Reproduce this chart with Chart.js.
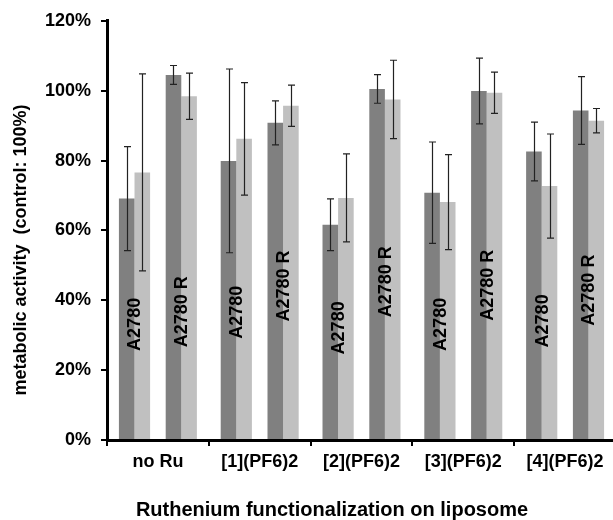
<!DOCTYPE html>
<html>
<head>
<meta charset="utf-8">
<script src="https://cdn.jsdelivr.net/npm/chart.js@4.4.1/dist/chart.umd.min.js"></script>
<style>
  html, body { margin: 0; padding: 0; background: #fff; overflow: hidden; }
  #wrap { width: 616px; height: 520px; }
</style>
</head>
<body>
<div id="wrap"><canvas id="chart" width="616" height="520"></canvas></div>
<script>
// categories on the x axis
const categories = ['no Ru', '[1](PF6)2', '[2](PF6)2', '[3](PF6)2', '[4](PF6)2'];

// metabolic activity in % of control, two bars per cell line
const a2780Dark   = [69.1, 79.9, 61.6, 70.8, 82.6];
const a2780Light  = [76.6, 86.2, 69.3, 68.1, 72.7];
const a2780RDark  = [104.5, 90.8, 100.5, 99.9, 94.3];
const a2780RLight = [98.4, 95.7, 97.5, 99.4, 91.4];

// symmetric error bars (± %)
const a2780DarkErr   = [14.9, 26.3, 7.4, 14.5, 8.4];
const a2780LightErr  = [28.2, 16.1, 12.6, 13.6, 14.9];
const a2780RDarkErr  = [2.7, 6.3, 4.1, 9.4, 9.7];
const a2780RLightErr = [6.6, 5.9, 11.2, 5.9, 3.5];

const cellLines = ['A2780', 'A2780 R'];
const yTickValues = [0, 20, 40, 60, 80, 100, 120];

const FONT = '"Liberation Sans", Arial, sans-serif';
const DARK = '#808080';
const LIGHT = '#c0c0c0';

// error bars + the rotated cell line labels inside the bars
const barExtras = {
  id: 'barExtras',
  afterDatasetsDraw(chart, args, opts) {
    const ctx = chart.ctx;
    const yScale = chart.scales.y;
    ctx.save();

    // error bars
    ctx.strokeStyle = '#222';
    ctx.lineWidth = 1.2;
    chart.data.datasets.forEach((ds, di) => {
      if (!ds.errors) return;
      const meta = chart.getDatasetMeta(di);
      meta.data.forEach((bar, i) => {
        const v = ds.data[i];
        const e = ds.errors[i];
        const top = yScale.getPixelForValue(v + e);
        const bot = yScale.getPixelForValue(v - e);
        const x = Math.round(bar.x) + 0.5;
        ctx.beginPath();
        ctx.moveTo(x, top); ctx.lineTo(x, bot);
        ctx.moveTo(x - 3.5, top); ctx.lineTo(x + 3.5, top);
        ctx.moveTo(x - 3.5, bot); ctx.lineTo(x + 3.5, bot);
        ctx.stroke();
      });
    });

    // labels, centred on the seam between dark and light bar
    ctx.fillStyle = '#000';
    ctx.font = 'bold 18px ' + FONT;
    ctx.textAlign = 'center';
    ctx.textBaseline = 'middle';
    opts.labelled.forEach((di, k) => {
      const meta = chart.getDatasetMeta(di);
      meta.data.forEach((bar, i) => {
        const x = bar.x + bar.width / 2;
        const y = yScale.getPixelForValue(opts.labelAt[k][i]);
        ctx.save();
        ctx.translate(x, y);
        ctx.rotate(-Math.PI / 2);
        ctx.fillText(cellLines[k], 0, 1);
        ctx.restore();
      });
    });

    ctx.restore();
  },
  afterDraw(chart) {
    const ctx = chart.ctx;
    const area = chart.chartArea;
    ctx.save();
    ctx.fillStyle = '#000';
    ctx.textAlign = 'center';
    ctx.textBaseline = 'middle';
    ctx.font = 'bold 20px ' + FONT;
    ctx.fillText('Ruthenium functionalization on liposome', area.left + 225, 510);
    ctx.translate(21, 250);
    ctx.rotate(-Math.PI / 2);
    ctx.font = 'bold 18px ' + FONT;
    ctx.fillText('metabolic activity  (control: 100%)', 0, 0);
    ctx.restore();
  }
};

new Chart(document.getElementById('chart'), {
  type: 'bar',
  data: {
    labels: categories,
    datasets: [
      { label: 'A2780 a', data: a2780Dark, errors: a2780DarkErr, backgroundColor: DARK },
      { label: 'A2780 b', data: a2780Light, errors: a2780LightErr, backgroundColor: LIGHT },
      { label: '', data: categories.map(() => null), backgroundColor: 'rgba(0,0,0,0)' },
      { label: 'A2780 R a', data: a2780RDark, errors: a2780RDarkErr, backgroundColor: DARK },
      { label: 'A2780 R b', data: a2780RLight, errors: a2780RLightErr, backgroundColor: LIGHT }
    ]
  },
  options: {
    responsive: false,
    animation: false,
    categoryPercentage: 0.766,
    barPercentage: 1.0,
    layout: { padding: { top: 20, left: 0, right: 0, bottom: 0 } },
    plugins: {
      legend: { display: false },
      tooltip: { enabled: false },
      barExtras: {
        labelled: [0, 3],
        labelAt: [
          [33.1, 36.6, 32.1, 33.1, 34.1],
          [36.7, 44.1, 45.3, 44.3, 42.9]
        ]
      }
    },
    scales: {
      x: {
        afterFit: s => { s.height = 80; },
        grid: { drawOnChartArea: false, drawTicks: true, tickLength: 6, color: '#000', lineWidth: 2 },
        border: { display: true, color: '#000', width: 3 },
        ticks: { color: '#000', font: { family: FONT, size: 18, weight: 'bold' }, padding: 5, maxRotation: 0 }
      },
      y: {
        min: 0,
        max: 120,
        afterFit: s => { s.width = 107; },
        afterBuildTicks: s => { s.ticks = yTickValues.map(v => ({ value: v })); },
        grid: { drawOnChartArea: false, drawTicks: true, tickLength: 6, color: '#000', lineWidth: 2 },
        border: { display: true, color: '#000', width: 3 },
        ticks: {
          color: '#000',
          font: { family: FONT, size: 18, weight: 'bold' },
          padding: 10,
          callback: v => v + '%'
        }
      }
    }
  },
  plugins: [barExtras]
});
</script>
</body>
</html>
